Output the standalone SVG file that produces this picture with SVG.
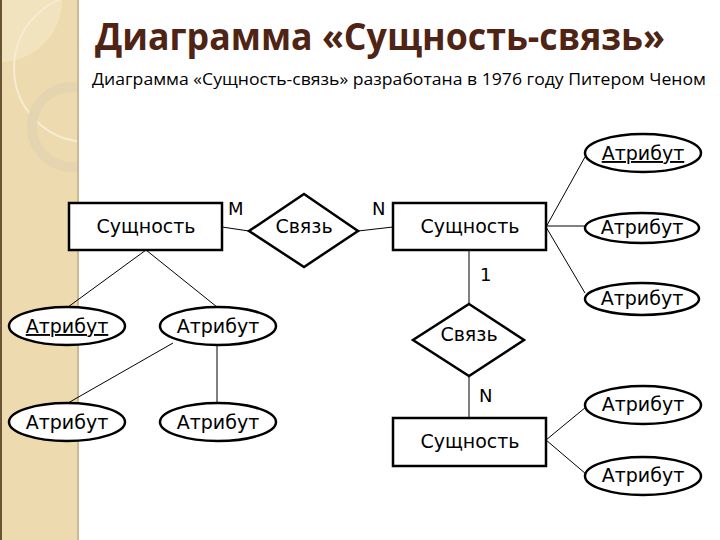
<svg xmlns="http://www.w3.org/2000/svg" width="720" height="540" viewBox="0 0 720 540">
<defs>
<clipPath id="side"><rect x="0" y="0" width="78" height="540"/></clipPath>
<style>
.shape{fill:#fff;stroke:#000;stroke-width:2.5}
.conn{stroke:#000;stroke-width:1;fill:none}
.t{font-family:"DejaVu Sans",sans-serif;font-size:19px;fill:#000;text-anchor:middle}
.lbl{font-family:"DejaVu Sans",sans-serif;font-size:18px;fill:#000}
.key{text-decoration:underline}
</style>
</defs>
<rect x="0" y="0" width="720" height="540" fill="#fff"/>
<g id="sidebar">
<rect x="0" y="0" width="79" height="540" fill="#EDDBAF"/>
<g clip-path="url(#side)">
<circle cx="0" cy="0" r="62" fill="#F1E3BE"/>
<circle cx="88" cy="68" r="74" fill="none" stroke="#F6ECD2" stroke-width="2"/>
<circle cx="72" cy="127" r="40" fill="none" stroke="#E4D5B0" stroke-width="10"/>
</g>
<rect x="0" y="0" width="2" height="540" fill="#6B5434"/>
<rect x="77" y="0" width="2" height="540" fill="#CBB995"/>
</g>
<g id="title">
<text x="95" y="50" font-family="'Open Sans',sans-serif" font-weight="bold" font-size="37" fill="#4F2415" textLength="570" lengthAdjust="spacingAndGlyphs">Диаграмма «Сущность-связь»</text>
<text x="92" y="85" font-family="'Open Sans',sans-serif" font-size="17" fill="#000" textLength="614" lengthAdjust="spacingAndGlyphs">Диаграмма «Сущность-связь» разработана в 1976 году Питером Ченом</text>
</g>
<g id="connectors">
<line class="conn" x1="222" y1="227" x2="249" y2="231"/>
<line class="conn" x1="358" y1="231" x2="393" y2="227"/>
<line class="conn" x1="546" y1="227" x2="585" y2="157"/>
<line class="conn" x1="546" y1="226" x2="585" y2="226"/>
<line class="conn" x1="546" y1="227" x2="585" y2="293"/>
<line class="conn" x1="469" y1="250" x2="469" y2="304"/>
<line class="conn" x1="469" y1="376" x2="469" y2="418"/>
<line class="conn" x1="546" y1="440" x2="586" y2="407"/>
<line class="conn" x1="546" y1="440" x2="586" y2="474"/>
<line class="conn" x1="146" y1="250" x2="68" y2="307"/>
<line class="conn" x1="146" y1="250" x2="217" y2="307"/>
<line class="conn" x1="173" y1="343" x2="68" y2="403"/>
<line class="conn" x1="217" y1="345" x2="217" y2="403"/>
</g>
<g id="labels">
<text class="lbl" x="228" y="215">M</text>
<text class="lbl" x="372" y="215">N</text>
<text class="lbl" x="480" y="281">1</text>
<text class="lbl" x="479" y="402">N</text>
</g>
<g id="entity1">
<rect class="shape" x="69" y="203" width="153" height="47"/>
<text class="t" x="146" y="233">Сущность</text>
</g>
<g id="relation1">
<polygon class="shape" points="304,194 358,231 304,267 249,231"/>
<text class="t" x="304" y="233">Связь</text>
</g>
<g id="entity2">
<rect class="shape" x="393" y="203" width="153" height="47"/>
<text class="t" x="470" y="233">Сущность</text>
</g>
<g id="attr-r1">
<ellipse class="shape" cx="643" cy="153" rx="58" ry="19"/>
<text class="t key" x="643" y="160">Атрибут</text>
</g>
<g id="attr-r2">
<ellipse class="shape" cx="642" cy="228" rx="57" ry="15"/>
<text class="t" x="642" y="234">Атрибут</text>
</g>
<g id="attr-r3">
<ellipse class="shape" cx="642" cy="299" rx="57" ry="16"/>
<text class="t" x="642" y="305">Атрибут</text>
</g>
<g id="relation2">
<polygon class="shape" points="469,304 524,340 469,376 413,340"/>
<text class="t" x="469" y="341">Связь</text>
</g>
<g id="entity3">
<rect class="shape" x="393" y="418" width="153" height="48"/>
<text class="t" x="470" y="448">Сущность</text>
</g>
<g id="attr-r4">
<ellipse class="shape" cx="643" cy="405" rx="58" ry="19"/>
<text class="t" x="643" y="411">Атрибут</text>
</g>
<g id="attr-r5">
<ellipse class="shape" cx="643" cy="476" rx="58" ry="19"/>
<text class="t" x="643" y="482">Атрибут</text>
</g>
<g id="attr-l1">
<ellipse class="shape" cx="67" cy="326" rx="58" ry="19"/>
<text class="t key" x="67" y="333">Атрибут</text>
</g>
<g id="attr-l2">
<ellipse class="shape" cx="218" cy="326" rx="58" ry="19"/>
<text class="t" x="218" y="333">Атрибут</text>
</g>
<g id="attr-l3">
<ellipse class="shape" cx="67" cy="422" rx="58" ry="19"/>
<text class="t" x="67" y="429">Атрибут</text>
</g>
<g id="attr-l4">
<ellipse class="shape" cx="218" cy="422" rx="58" ry="19"/>
<text class="t" x="218" y="429">Атрибут</text>
</g>
</svg>
